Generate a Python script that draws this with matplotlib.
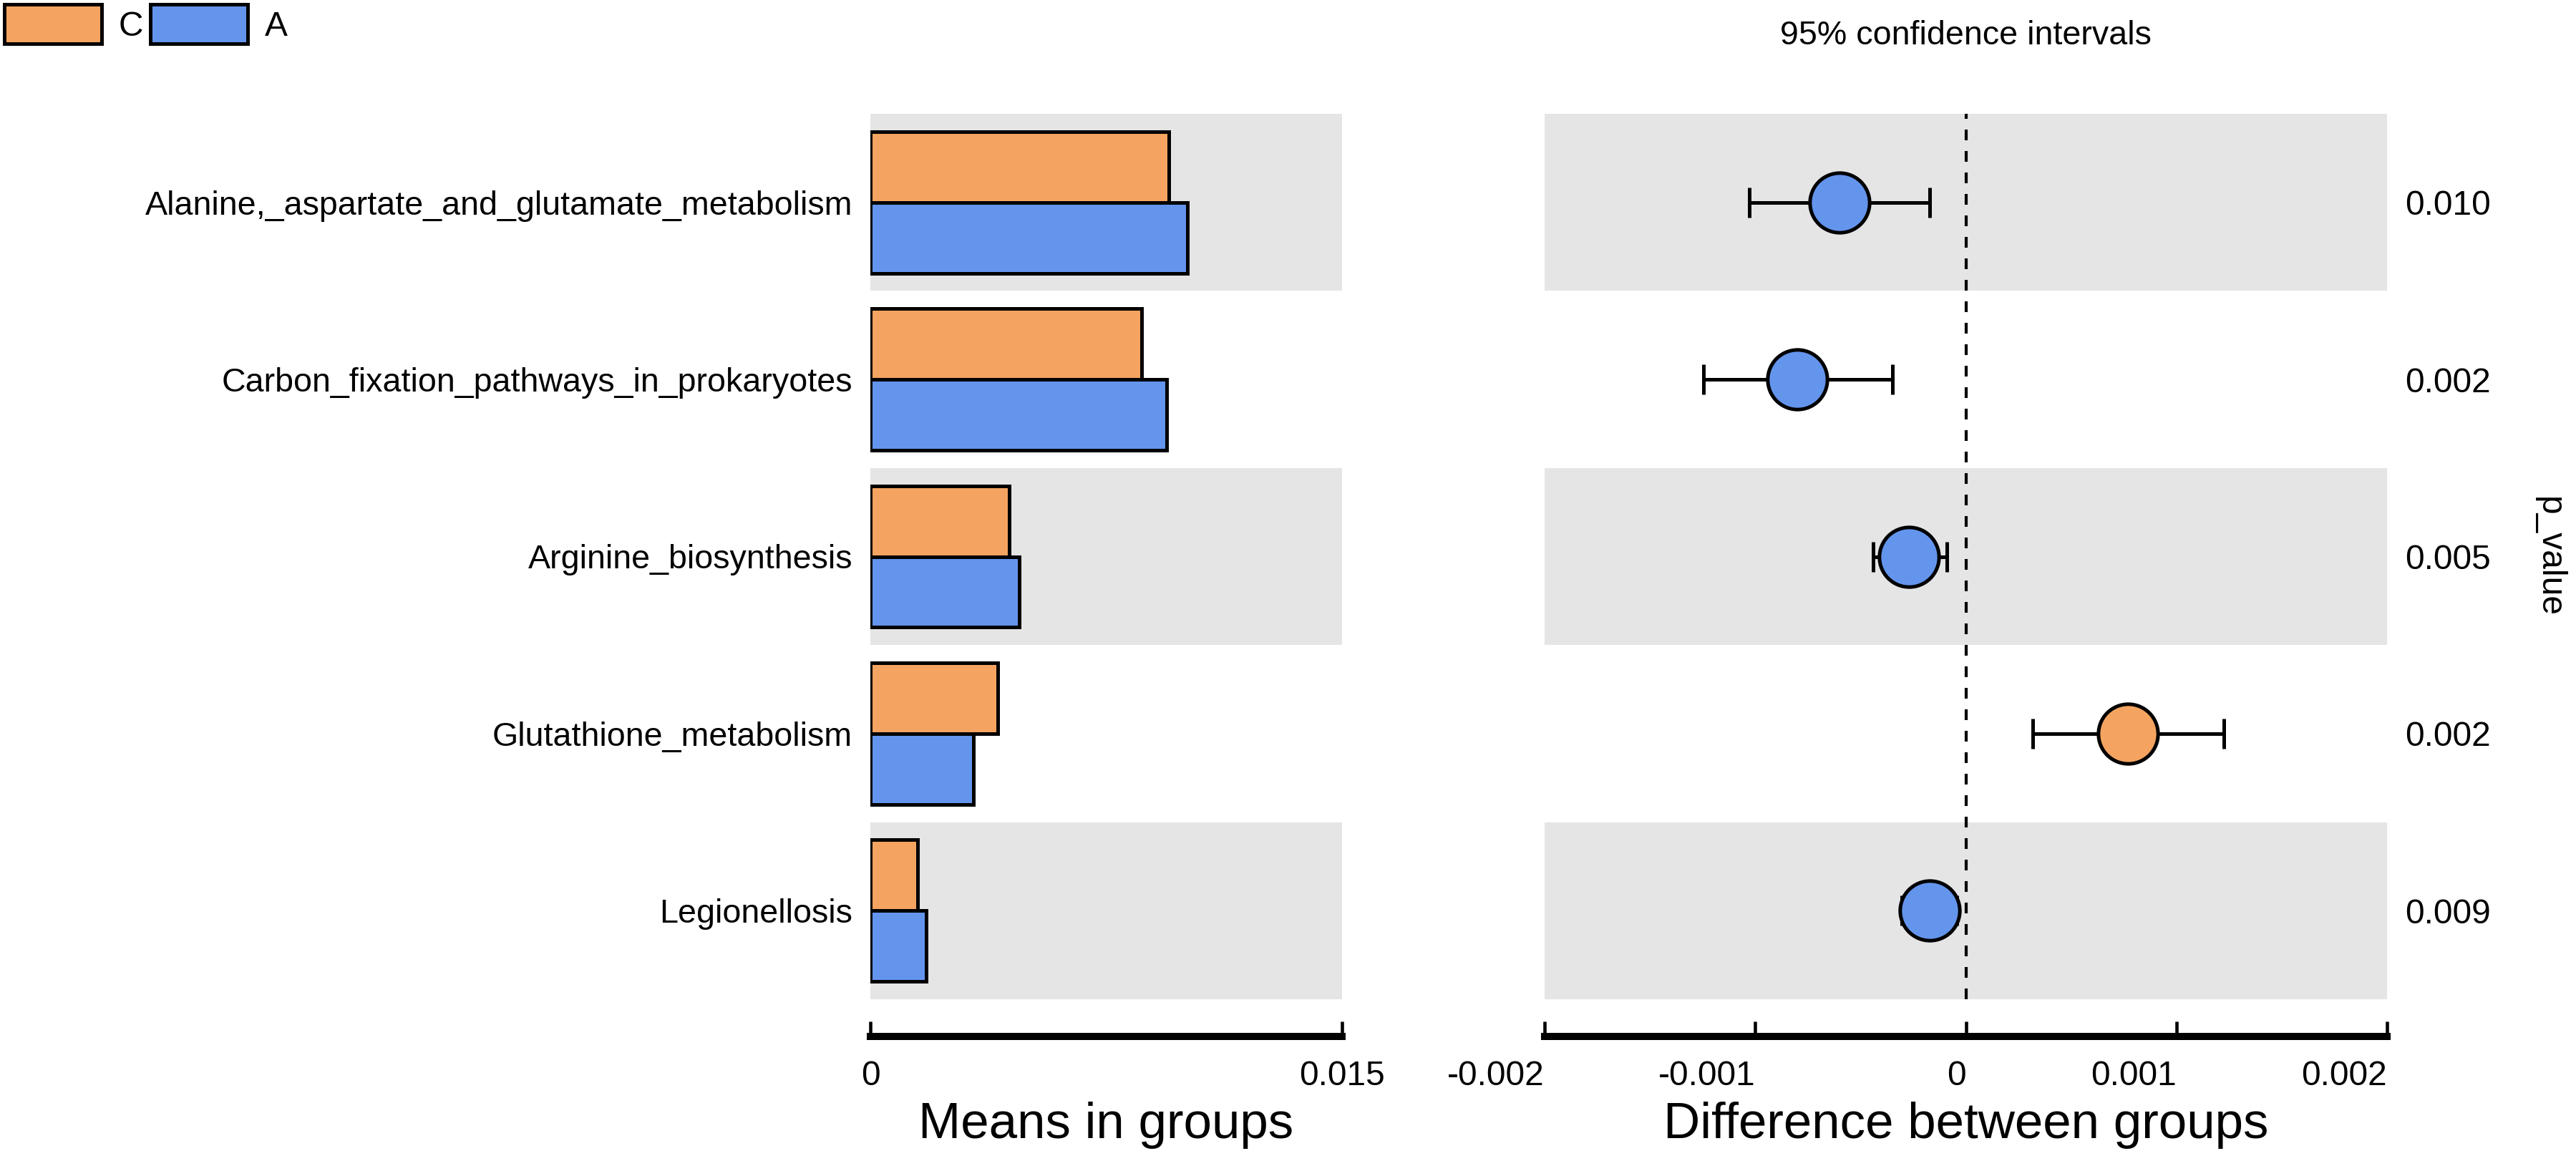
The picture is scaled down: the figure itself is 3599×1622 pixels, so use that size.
import numpy as np
import matplotlib
matplotlib.use("Agg")
import matplotlib.pyplot as plt
from matplotlib.patches import Patch

plt.rcParams['font.family'] = ['Liberation Sans', 'DejaVu Sans']

### DATA
pathways = ["Alanine,_aspartate_and_glutamate_metabolism",
            "Carbon_fixation_pathways_in_prokaryotes",
            "Arginine_biosynthesis",
            "Glutathione_metabolism",
            "Legionellosis"]
groups = ["C", "A"]
meanC = [0.00949, 0.00863, 0.00442, 0.00406, 0.00151]
meanA = [0.01008, 0.00942, 0.00474, 0.00328, 0.00177]
diff = [-0.000599, -0.000800, -0.000269, 0.000769, -0.000172]
ciLow = [-0.001028, -0.001246, -0.000439, 0.000317, -0.000303]
ciHigh = [-0.000170, -0.000350, -0.0000885, 0.001225, -0.000041]
pValues = ["0.010", "0.002", "0.005", "0.002", "0.009"]

colorC = "#F4A460"
colorA = "#6495ED"
grey = "#E5E5E5"
fontSize = 11.2
tickSize = 11.5

W, H = 3599, 1622
fig = plt.figure(figsize=(W / 300, H / 300), dpi=300)

# axes boxes in pixels of the reference picture
top = 1 - 159 / H
bottom = 1 - 1396 / H
axLeft = fig.add_axes([1216 / W, bottom, (1875 - 1216) / W, top - bottom])
axRight = fig.add_axes([2158 / W, bottom, (3335 - 2158) / W, top - bottom])

y = np.arange(len(pathways))


def style_axis(ax):
    ax.set_ylim(len(pathways) - 0.5, -0.5)
    for s in ["left", "top", "right"]:
        ax.spines[s].set_visible(False)
    ax.spines["bottom"].set_position(("outward", 12.5))
    ax.spines["bottom"].set_linewidth(2.4)
    ax.tick_params(axis="x", direction="in", length=5, width=1.1, pad=8,
                   labelsize=tickSize)
    # grey stripes on every second row
    for i in range(0, len(pathways), 2):
        ax.axhspan(i - 0.5, i + 0.5, color=grey, lw=0, zorder=0)


## LEFT: means in groups
style_axis(axLeft)
axLeft.barh(y - 0.2, meanC, height=0.4, color=colorC, edgecolor="black", lw=1.2, zorder=2)
axLeft.barh(y + 0.2, meanA, height=0.4, color=colorA, edgecolor="black", lw=1.2, zorder=2)
axLeft.set_xlim(0, 0.015)
axLeft.set_xticks([0, 0.015])
axLeft.set_xticklabels(["0", "0.015"])
axLeft.set_yticks(y)
axLeft.set_yticklabels(pathways)
axLeft.tick_params(axis="y", length=0, pad=6, labelsize=fontSize)
axLeft.set_xlabel("Means in groups", fontsize=17, labelpad=3)

## RIGHT: difference between groups
style_axis(axRight)
axRight.set_xlim(-0.002, 0.002)
axRight.axvline(0, color="black", lw=1.0, dashes=(3.6, 3.6), zorder=1)
diffArr = np.array(diff)
xerr = [diffArr - np.array(ciLow), np.array(ciHigh) - diffArr]
axRight.errorbar(diffArr, y, xerr=xerr, fmt="none", ecolor="black",
                 elinewidth=1.2, capsize=5, capthick=1.2, zorder=3)
for i in range(len(pathways)):
    c = colorC if diff[i] > 0 else colorA
    axRight.plot(diff[i], y[i], marker="o", markersize=20, markerfacecolor=c,
                 markeredgecolor="black", markeredgewidth=1.2, zorder=4)
axRight.set_xticks([-0.002, -0.001, 0, 0.001, 0.002])
axRight.set_xticklabels(["-0.002", "-0.001", "0", "0.001", "0.002"], ha="right")
axRight.set_yticks(y)
axRight.set_yticklabels(pValues, fontsize=tickSize)
axRight.yaxis.tick_right()
axRight.yaxis.set_label_position("right")
axRight.tick_params(axis="y", length=0, pad=6)
axRight.set_ylabel("p_value", fontsize=tickSize, rotation=270, labelpad=25)
axRight.set_xlabel("Difference between groups", fontsize=17, labelpad=3)
axRight.set_title("95% confidence intervals", fontsize=fontSize, pad=0, y=1.0)
axRight.title.set_position((0.5, 1 + (159 - 50) / (1396 - 159)))
axRight.title.set_va("center")

## LEGEND
handles = [Patch(facecolor=colorC, edgecolor="black", lw=1.2, label=groups[0]),
           Patch(facecolor=colorA, edgecolor="black", lw=1.2, label=groups[1])]
fig.legend(handles=handles, loc="upper left", bbox_to_anchor=(6 / W, 1 - 6 / H),
           ncol=2, frameon=False, fontsize=tickSize, handlelength=2.84,
           handleheight=1.4, handletextpad=0.5, columnspacing=0.2,
           borderpad=0, borderaxespad=0)

fig.savefig("out.png", dpi=300)
